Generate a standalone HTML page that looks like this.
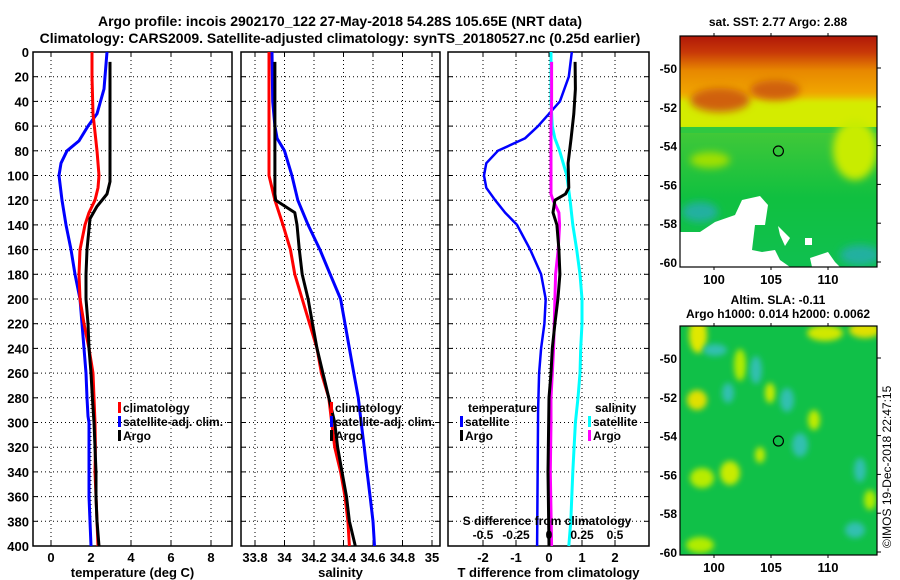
<!DOCTYPE html>
<html><head><meta charset="utf-8"><style>
html,body{margin:0;padding:0;background:#fff;}
svg{display:block;font-family:"Liberation Sans",Arial,sans-serif;font-weight:bold;}
</style></head><body>
<svg id="fig" width="900" height="580" viewBox="0 0 900 580" xmlns="http://www.w3.org/2000/svg">
<defs>
<filter id="blur4" x="-50%" y="-50%" width="200%" height="200%"><feGaussianBlur stdDeviation="4"/></filter>
<filter id="blur2" x="-50%" y="-50%" width="200%" height="200%"><feGaussianBlur stdDeviation="3"/></filter>
<clipPath id="clipTop"><rect x="680" y="36" width="197" height="231"/></clipPath>
<clipPath id="clipBot"><rect x="680" y="326" width="197" height="229"/></clipPath>
<linearGradient id="sstg" x1="0" y1="0" x2="0" y2="1">
<stop offset="0" stop-color="#b01808"/><stop offset="0.07" stop-color="#c83808"/><stop offset="0.15" stop-color="#e88800"/>
<stop offset="0.24" stop-color="#f0a400"/><stop offset="0.28" stop-color="#e8c800"/><stop offset="0.32" stop-color="#d8f000"/>
<stop offset="0.39" stop-color="#c0ec00"/><stop offset="0.42" stop-color="#40c838"/><stop offset="0.7" stop-color="#10c040"/><stop offset="1" stop-color="#10c050"/>
</linearGradient>
</defs>
<text x="340" y="26" font-size="14" text-anchor="middle">Argo profile: incois 2902170_122 27-May-2018 54.28S 105.65E (NRT data)</text>
<text x="340" y="43" font-size="14" text-anchor="middle">Climatology: CARS2009. Satellite-adjusted climatology: synTS_20180527.nc (0.25d earlier)</text>
<g id="maps"></g>
<g id="plots"></g>
<text transform="translate(891,548) rotate(-90)" font-size="12" font-weight="normal">©IMOS 19-Dec-2018 22:47:15</text>
</svg>
<script>
// ---- data ----
const depthTicks = [0,20,40,60,80,100,120,140,160,180,200,220,240,260,280,300,320,340,360,380,400];
const tempTicks = [0,2,4,6,8];
const salTicks = [33.8,34,34.2,34.4,34.6,34.8,35];
const salTickLabels = ["33.8","34","34.2","34.4","34.6","34.8","35"];
const tdiffTicks = [-2,-1,0,1,2];
const sdiffTicks = [-0.5,-0.25,0,0.25,0.5];
const sdiffTickLabels = ["-0.5","-0.25","0","0.25","0.5"];

const climTDepth = [0,20,50,80,100,110,120,130,140,160,180,200,220,240,260,280,300,320,340,360,380,400];
const climT      = [2.05,2.05,2.1,2.3,2.4,2.35,2.2,1.9,1.7,1.45,1.4,1.45,1.65,1.9,2.1,2.15,2.2,2.22,2.2,2.25,2.3,2.35];
const argoTDepth = [8,30,60,105,115,125,135,160,180,200,220,240,260,280,300,320,340,360,380,400];
const argoT      = [2.95,2.95,2.95,2.95,2.8,2.3,1.95,1.8,1.75,1.75,1.85,1.9,2.0,2.07,2.15,2.2,2.25,2.25,2.3,2.4];
const satTDepth  = [0,30,50,60,72,80,90,100,120,140,160,180,200,220,240,260,280,295,300,360,400];
const satT       = [2.8,2.65,2.3,1.85,1.4,0.8,0.5,0.4,0.55,0.75,1.0,1.2,1.45,1.55,1.65,1.75,1.8,1.85,1.9,1.9,2.0];

const climSDepth = [0,100,120,140,160,180,200,220,240,260,280,300,320,340,360,380,400];
const climS      = [33.895,33.895,33.935,33.99,34.04,34.07,34.12,34.17,34.22,34.25,34.30,34.32,34.34,34.38,34.41,34.43,34.44];
const argoSDepth = [8,115,120,130,140,160,180,200,220,240,260,280,300,320,340,360,380,400];
const argoS      = [33.935,33.935,33.94,34.07,34.085,34.1,34.12,34.16,34.19,34.22,34.26,34.30,34.34,34.36,34.39,34.42,34.44,34.48];
const satSDepth  = [0,40,60,70,80,100,120,140,160,180,200,220,240,260,280,300,320,340,360,380,400];
const satS       = [33.915,33.92,33.935,33.95,34.0,34.05,34.09,34.16,34.24,34.31,34.38,34.41,34.44,34.47,34.50,34.52,34.54,34.56,34.58,34.60,34.61];

const dTsatDepth = [0,20,40,50,60,70,80,90,100,110,120,130,140,160,180,200,220,240,260,290,400];
const dTsat      = [0.69,0.6,0.33,0,-0.33,-0.73,-1.55,-1.9,-1.97,-1.9,-1.63,-1.33,-0.97,-0.57,-0.24,-0.1,-0.14,-0.24,-0.3,-0.33,-0.36];
const dTargoDepth= [8,30,50,70,90,110,115,120,130,140,160,180,200,220,240,260,280,340,400];
const dTargo     = [0.79,0.8,0.75,0.67,0.58,0.6,0.5,0.18,0.12,0.24,0.3,0.33,0.27,0.18,0.1,0.06,0.0,-0.03,0.0];
const dSsatDepth = [0,40,60,70,80,100,120,140,160,180,200,220,240,260,280,300,340,380,400];
const dSsat      = [0.015,0.015,0.025,0.045,0.08,0.135,0.16,0.18,0.21,0.235,0.25,0.25,0.24,0.235,0.22,0.2,0.18,0.165,0.15];
const dSargoDepth= [8,40,60,100,115,120,130,140,160,180,200,240,280,300,340,400];
const dSargo     = [0.02,0.02,0.015,0.015,0.015,0.03,0.075,0.08,0.07,0.05,0.045,0.035,0.015,0.015,0.01,0.02];

const NS='http://www.w3.org/2000/svg';
function mk(tag, attrs, parent){const e=document.createElementNS(NS,tag);for(const k in attrs)e.setAttribute(k,attrs[k]);parent.appendChild(e);return e;}
const plots=document.getElementById('plots');
const Y0=52, Y1=546;
const yD = d => Y0 + (Y1-Y0)*d/400;

function panel(name, x0, x1, xs, ticks, labels, xlabel){
  const g=mk('g',{},plots);
  
  
  depthTicks.forEach(d=>{ if(d>0&&d<400) mk('line',{x1:x0,x2:x1,y1:yD(d),y2:yD(d),stroke:'#000','stroke-width':1,'stroke-dasharray':'1 3'},g);
    mk('line',{x1:x0,x2:x0+5,y1:yD(d),y2:yD(d),stroke:'#000'},g);
    mk('line',{x1:x1-5,x2:x1,y1:yD(d),y2:yD(d),stroke:'#000'},g);});
  ticks.forEach((t,i)=>{const x=xs(t);
    mk('line',{x1:x,x2:x,y1:Y0,y2:Y1,stroke:'#000','stroke-dasharray':'1 3'},g);
    mk('line',{x1:x,x2:x,y1:Y1-5,y2:Y1,stroke:'#000'},g);
    mk('line',{x1:x,x2:x,y1:Y0,y2:Y0+5,stroke:'#000'},g);
    const t2=mk('text',{x:x,y:562,'font-size':13,'text-anchor':'middle'},g);t2.textContent=labels[i];
    
    
  });
  mk('rect',{x:x0,y:Y0,width:x1-x0,height:Y1-Y0,fill:'none',stroke:'#000','stroke-width':1.5},g);
  const xl=mk('text',{x:(x0+x1)/2,y:577,'font-size':13,'text-anchor':'middle'},g);xl.textContent=xlabel;
  
  
  return g;
}
function line(g, xs, vals, depths, color, w, name){
  const p=vals.map((v,i)=>xs(v).toFixed(1)+','+yD(depths[i]).toFixed(1)).join(' ');
  const e=mk('polyline',{points:p,fill:'none',stroke:color,'stroke-width':w,'stroke-linejoin':'round'},g);
  
  
}
function legend(g,x,y,color,label){
  mk('rect',{x:x,y:y-10,width:3,height:11,fill:color},g);
  const t=mk('text',{x:x+5,y:y,'font-size':12},g);t.textContent=label;
  
  
}

depthTicks.forEach(d=>{const t=mk('text',{x:29,y:yD(d)+5,'font-size':13,'text-anchor':'end'},plots);t.textContent=d;
  
  });

const xT = t => 51 + 20*t;
const g1=panel('temperature-panel',33,232,xT,tempTicks,tempTicks.map(String),'temperature (deg C)');
line(g1,xT,satT,satTDepth,'#0000ff',3,'satellite-adj-temperature-line');
line(g1,xT,climT,climTDepth,'#ff0000',3,'climatology-temperature-line');
line(g1,xT,argoT,argoTDepth,'#000',3,'argo-temperature-line');
legend(g1,118,412,'#ff0000','climatology');
legend(g1,118,426,'#0000ff','satellite-adj. clim.');
legend(g1,118,440,'#000','Argo');

const xS = s => 255 + (s-33.8)*147.5;
const g2=panel('salinity-panel',241,440,xS,salTicks,salTickLabels,'salinity');
line(g2,xS,satS,satSDepth,'#0000ff',3,'satellite-adj-salinity-line');
line(g2,xS,climS,climSDepth,'#ff0000',3,'climatology-salinity-line');
line(g2,xS,argoS,argoSDepth,'#000',3,'argo-salinity-line');
legend(g2,330,412,'#ff0000','climatology');
legend(g2,330,426,'#0000ff','satellite-adj. clim.');
legend(g2,330,440,'#000','Argo');

const xDT = t => 549 + 33*t;
const xDS = s => 549 + 132*s;
const g3=panel('difference-panel',448,649,xDT,tdiffTicks,tdiffTicks.map(String),'T difference from climatology');
line(g3,xDT,dTsat,dTsatDepth,'#0000ff',2.5,'satellite-temperature-difference-line');
line(g3,xDS,dSsat,dSsatDepth,'#00ffff',3,'satellite-salinity-difference-line');
line(g3,xDS,dSargo,dSargoDepth,'#ff00ff',3,'argo-salinity-difference-line');
line(g3,xDT,dTargo,dTargoDepth,'#000',3,'argo-temperature-difference-line');
let tt=mk('text',{x:468,y:412,'font-size':12},g3);tt.textContent='temperature';


legend(g3,460,426,'#0000ff','satellite');
legend(g3,460,440,'#000','Argo');
tt=mk('text',{x:595,y:412,'font-size':12},g3);tt.textContent='salinity';


legend(g3,588,426,'#00ffff','satellite');
legend(g3,588,440,'#ff00ff','Argo');
tt=mk('text',{x:547,y:525,'font-size':12,'text-anchor':'middle'},g3);tt.textContent='S difference from climatology';


sdiffTicks.forEach((s,i)=>{const t=mk('text',{x:xDS(s),y:539,'font-size':12,'text-anchor':'middle'},g3);t.textContent=sdiffTickLabels[i];
  
  });

// ---- maps ----
const maps=document.getElementById('maps');
const lonTicks=[100,105,110];
const latTicks=[-50,-52,-54,-56,-58,-60];
const xLon = l => 714 + (l-100)*11.4;
function mapFrame(name,top,bot,latTop,latBot,title1,title2,clipId,drawFn){
  const g=mk('g',{},maps);
  
  
  const yLat = la => latTop + (latBot-latTop)*(la+50)/(-10);
  const inner=mk('g',{'clip-path':'url(#'+clipId+')'},g);
  drawFn(inner,top,bot,yLat);
  mk('circle',{cx:xLon(105.65),cy:yLat(-54.28),r:5,fill:'none',stroke:'#000','stroke-width':1.2},g);
  mk('rect',{x:680,y:top,width:197,height:bot-top,fill:'none',stroke:'#000','stroke-width':1.2},g);
  latTicks.forEach(la=>{const y=yLat(la);
    mk('line',{x1:877,x2:881,y1:y,y2:y,stroke:'#000'},g);
    const t=mk('text',{x:677,y:y+5,'font-size':12,'text-anchor':'end'},g);t.textContent=la;
    
    });
  lonTicks.forEach(l=>{const x=xLon(l);
    mk('line',{x1:x,x2:x,y1:top-3,y2:top,stroke:'#000'},g);
    mk('line',{x1:x,x2:x,y1:bot,y2:bot+3,stroke:'#000'},g);
    const t=mk('text',{x:x,y:bot+17,'font-size':13,'text-anchor':'middle'},g);t.textContent=l;
    
    });
  let t=mk('text',{x:778,y:title2?top-22:top-10,'font-size':12,'text-anchor':'middle'},g);t.textContent=title1;
  
  
  if(title2){t=mk('text',{x:778,y:top-8,'font-size':12,'text-anchor':'middle'},g);t.textContent=title2;
    
    }
}
mapFrame('sst-map',36,267,68,262,'sat. SST: 2.77 Argo: 2.88',null,'clipTop',(g,top,bot)=>{
  mk('rect',{x:680,y:top,width:197,height:bot-top,fill:'url(#sstg)'},g);
  mk('rect',{x:670,y:100,width:220,height:28,fill:'#d4ec00',filter:'url(#blur2)'},g);
  mk('rect',{x:680,y:127,width:197,height:6,fill:'#30c840'},g);
  mk('ellipse',{cx:855,cy:150,rx:22,ry:30,fill:'#c8ec00',filter:'url(#blur4)'},g);
  mk('ellipse',{cx:720,cy:100,rx:30,ry:12,fill:'#d06010',filter:'url(#blur4)'},g);
  mk('ellipse',{cx:775,cy:90,rx:25,ry:10,fill:'#d06010',filter:'url(#blur4)'},g);
  mk('ellipse',{cx:710,cy:160,rx:20,ry:8,fill:'#a0e000',filter:'url(#blur4)'},g);
  mk('ellipse',{cx:700,cy:212,rx:18,ry:10,fill:'#20b0a0',filter:'url(#blur4)'},g);
  mk('ellipse',{cx:860,cy:255,rx:20,ry:10,fill:'#20b0a0',filter:'url(#blur4)'},g);
  mk('polygon',{points:'680,267 680,232 700,232 715,222 735,215 742,200 760,196 768,205 765,225 755,225 752,250 762,252 775,250 780,260 790,267',fill:'#fff'},g);
  mk('polygon',{points:'780,235 785,246 790,238 778,226',fill:'#fff'},g);
  mk('polygon',{points:'805,238 812,238 812,245 805,245',fill:'#fff'},g);
  mk('polygon',{points:'812,267 810,258 828,252 835,262 840,267',fill:'#fff'},g);
});
mapFrame('sla-map',326,555,358,552,'Altim. SLA: -0.11','Argo h1000: 0.014 h2000: 0.0062','clipBot',(g,top,bot)=>{
  mk('rect',{x:680,y:top,width:197,height:bot-top,fill:'#10c048'},g);
  const blobs=[[698,335,9,18,'#e0e800'],[697,400,10,10,'#e0e000'],[740,365,6,16,'#b0ec00'],[770,393,5,10,'#c8ec00'],[814,420,6,10,'#c0ec00'],
   [730,473,10,12,'#c8ec00'],[702,478,12,10,'#b8ec00'],[825,333,18,8,'#d0e800'],[865,330,16,8,'#e0e000'],[760,455,5,8,'#c0ec00'],[870,500,6,10,'#b0ec00'],[700,545,14,8,'#b0ec00']];
  blobs.forEach(b=>mk('ellipse',{cx:b[0],cy:b[1],rx:b[2],ry:b[3],fill:b[4],filter:'url(#blur2)'},g));
  const cy=[[756,370,6,14],[728,393,6,10],[787,400,7,12],[800,445,8,12],[715,350,12,6],[860,470,6,12],[855,530,10,8]];
  cy.forEach(b=>mk('ellipse',{cx:b[0],cy:b[1],rx:b[2],ry:b[3],fill:'#30c0b0',filter:'url(#blur2)'},g));
});
</script>
</body></html>
